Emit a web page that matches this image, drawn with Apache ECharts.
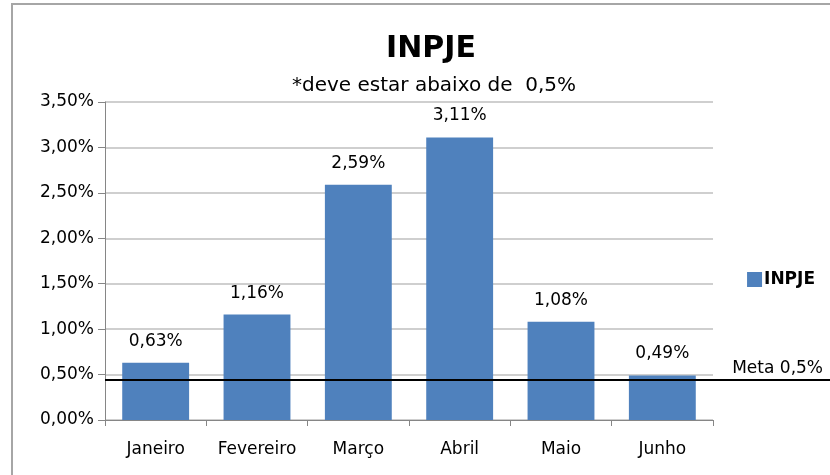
<!DOCTYPE html>
<html>
<head>
<meta charset="utf-8">
<script src="https://cdn.jsdelivr.net/npm/echarts@6/dist/echarts.min.js"></script>
<style>
  html, body { margin: 0; padding: 0; background: #fff; }
  #chart { width: 830px; height: 475px; }
</style>
</head>
<body>
<div id="chart"></div>
<script>
const months = ['Janeiro', 'Fevereiro', 'Março', 'Abril', 'Maio', 'Junho'];
const inpje = [0.63, 1.16, 2.59, 3.11, 1.08, 0.49];
const meta = [[0, 0.44], [1, 0.44]];
const yTicks = { min: 0, max: 3.5, interval: 0.5 };

const font = '"DejaVu Sans", sans-serif';
const pct = (v, d) => v.toFixed(d).replace('.', ',') + '%';

const chart = echarts.init(document.getElementById('chart'));
chart.setOption({
  animation: false,
  textStyle: { fontFamily: font, color: '#000' },
  graphic: [{
    type: 'polyline',
    shape: { points: [[12, 480], [12, 4], [840, 4]] },
    style: { stroke: '#a6a6a6', lineWidth: 2, fill: null },
  }],
  title: [{
    text: 'INPJE',
    left: 426,
    textAlign: 'center',
    top: 29,
    textStyle: { fontFamily: font, fontSize: 30, fontWeight: 'bold', color: '#000' },
  }, {
    text: '*deve estar abaixo de  0,5%',
    left: 429,
    textAlign: 'center',
    top: 71,
    textStyle: { fontFamily: font, fontSize: 20, fontWeight: 'normal', color: '#000' },
  }],
  legend: {
    data: ['INPJE'],
    right: 10,
    top: 266,
    itemWidth: 15,
    itemHeight: 15,
    itemGap: 2,
    icon: 'rect',
    textStyle: { fontFamily: font, fontSize: 17, fontWeight: 'bold', color: '#000', padding: [0, 0, 0, -3] },
  },
  grid: [
    { left: 105, right: 117, top: 102, bottom: 55 },
    { left: 105, right: 0, top: 102, bottom: 55 },
  ],
  xAxis: [{
    type: 'category',
    data: months,
    gridIndex: 0,
    axisLine: { lineStyle: { color: '#868686', width: 1 } },
    axisTick: { show: true, length: 6, lineStyle: { color: '#868686' } },
    axisLabel: { interval: 0, fontFamily: font, fontSize: 17, color: '#000', margin: 21 },
  }, {
    type: 'value',
    gridIndex: 1,
    min: 0,
    max: 1,
    show: false,
  }],
  yAxis: [{
    type: 'value',
    gridIndex: 0,
    min: yTicks.min,
    max: yTicks.max,
    interval: yTicks.interval,
    axisLine: { show: true, lineStyle: { color: '#868686' } },
    axisTick: { show: true, length: 7, lineStyle: { color: '#868686' } },
    splitLine: { lineStyle: { color: '#bfbfbf', width: 1.5 } },
    axisLabel: { fontFamily: font, fontSize: 17, color: '#000', margin: 11, formatter: v => pct(v, 2) },
  }, {
    type: 'value',
    gridIndex: 1,
    min: yTicks.min,
    max: yTicks.max,
    show: false,
  }],
  series: [{
    name: 'INPJE',
    type: 'bar',
    xAxisIndex: 0,
    yAxisIndex: 0,
    data: inpje,
    barWidth: '66%',
    itemStyle: { color: '#4f81bd' },
    label: {
      show: true,
      position: 'top',
      distance: 13,
      fontFamily: font,
      fontSize: 17,
      color: '#000',
      formatter: p => pct(p.value, 2),
    },
  }, {
    name: 'Meta',
    type: 'line',
    xAxisIndex: 1,
    yAxisIndex: 1,
    data: meta,
    symbol: 'none',
    lineStyle: { color: '#000', width: 2 },
    endLabel: {
      show: true,
      formatter: 'Meta 0,5%',
      align: 'right',
      verticalAlign: 'bottom',
      offset: [-15, -3],
      fontFamily: font,
      fontSize: 17,
      color: '#000',
    },
  }],
});
</script>
</body>
</html>
